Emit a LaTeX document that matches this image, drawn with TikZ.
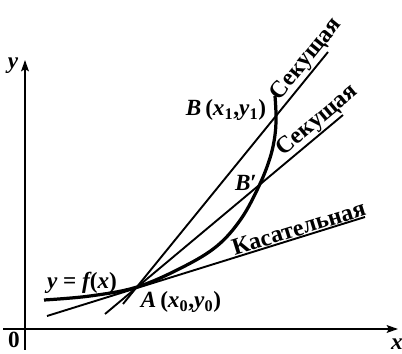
\documentclass[tikz,border=0pt]{standalone}
\usepackage{fontspec}
\setmainfont{Liberation Serif}
\usetikzlibrary{arrows.meta}
\newcommand{\mv}[1]{{\bfseries\itshape #1}}
\newcommand{\ms}[1]{\textsubscript{\bfseries\upshape #1}}
\begin{document}
\begin{tikzpicture}[x=0.025cm,y=-0.025cm,
  axis/.style={line width=1.3pt,-{Stealth[length=8pt,width=5.5pt,inset=1.5pt]}},
  ln/.style={line width=1.35pt},
  crv/.style={line width=2.3pt},
  lbl/.style={font=\fontsize{16.5}{19}\selectfont\bfseries, inner sep=0pt},
  rlbl/.style={font=\fontsize{17}{19}\selectfont\bfseries, inner sep=0.3pt, sloped, anchor=south},
]
\useasboundingbox (0,0) rectangle (402,354);
% axes
\coordinate (Xs) at (3,329);
\coordinate (Xe) at (398,329);
\coordinate (Ys) at (25,350);
\coordinate (Ye) at (25,60);
\draw[axis] (Xs) -- (Xe);
\draw[axis] (Ys) -- (Ye);
% points
\coordinate (A) at (137,287);
\coordinate (B) at (276,115);
\coordinate (Bp) at (259,185);
% line ends
\coordinate (T1) at (47,316);
\coordinate (T2) at (365,217);
\coordinate (S1) at (123,304);
\coordinate (S2) at (328,52);
\coordinate (R1) at (105,314);
\coordinate (R2) at (343,115);
% secants and tangent
\draw[ln] (S1) -- node[pos=0.94, rlbl] (sec1) {Секущая} (S2);
\draw[ln] (R1) -- node[pos=0.925, rlbl] (sec2) {Секущая} (R2);
\draw[ln] (T1) -- node[pos=0.8, rlbl] (tan) {Касательная} (T2);
% curve
\draw[crv] plot[smooth, tension=0.6] coordinates {(44,300) (90,296) (137,287) (183,267) (217,246) (241,219) (259,186) (270,158) (275,135) (276,115) (275,96)};
% labels
\node[lbl] (ylab) at (13,66) {\mv{y}};
\node[lbl] (xlab) at (397,344) {\mv{x}};
\node[lbl] (zero) at (14,340) {0};
\node[lbl] (fx) at (82,283) {\mv{y} = \mv{f}(\mv{x})};
\node[lbl] (Alab) at (181,302) {\mv{A}\,(\mv{x}\ms{0},\mv{y}\ms{0})};
\node[lbl] (Blab) at (226,110) {\mv{B}\,(\mv{x}\ms{1},\mv{y}\ms{1})};
\node[lbl] (Bplab) at (246,183) {\mv{B}′};
\end{tikzpicture}
\end{document}
